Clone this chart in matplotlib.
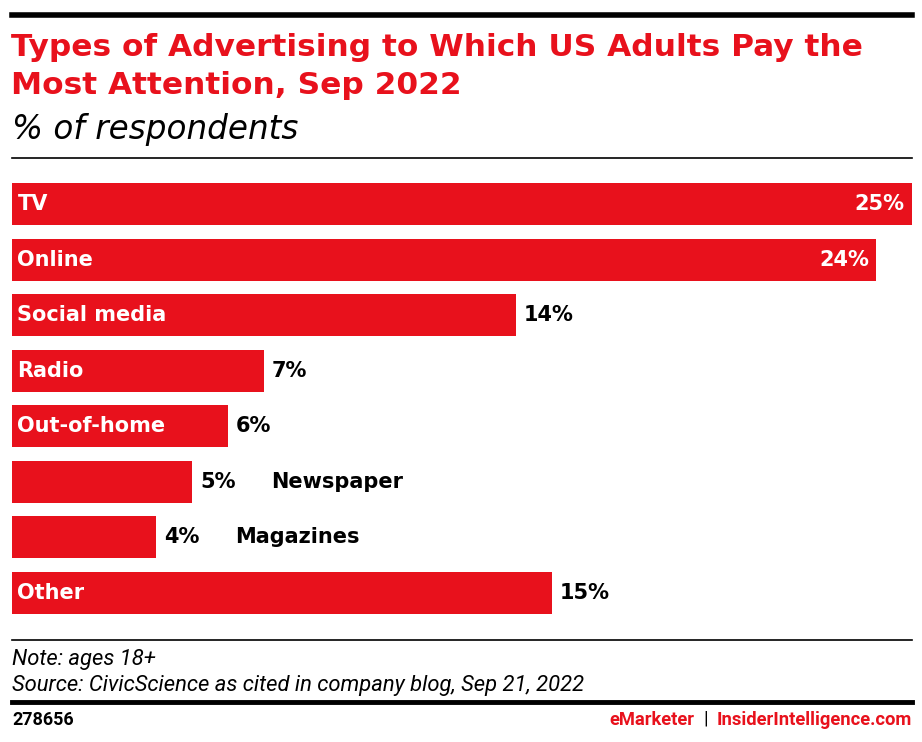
import matplotlib
matplotlib.use('Agg')
import matplotlib.pyplot as plt
from matplotlib.lines import Line2D

plt.rcParams['font.family'] = ['DejaVu Sans']

categories = ['TV', 'Online', 'Social media', 'Radio', 'Out-of-home',
              'Newspaper', 'Magazines', 'Other']
values = [25, 24, 14, 7, 6, 5, 4, 15]
inside_label = [True, True, True, True, True, False, False, True]
inside_value = [True, True, False, False, False, False, False, False]

RED = '#E8111C'
W, H = 922, 742
NARROW = ['Roboto', 'DejaVu Sans']

fig = plt.figure(figsize=(W / 100, H / 100), dpi=100)


def fx(px):
    return px / W


def fy(py):
    return 1 - py / H


# top rule, title, subtitle
fig.add_artist(Line2D([fx(12), fx(912)], [fy(15), fy(15)], color='black', lw=4))
fig.text(fx(11), fy(47), 'Types of Advertising to Which US Adults Pay the',
         color=RED, fontsize=22.5, fontweight='bold', va='center', ha='left')
fig.text(fx(11), fy(86), 'Most Attention, Sep 2022',
         color=RED, fontsize=22.5, fontweight='bold', va='center', ha='left')
fig.text(fx(12), fy(130), '% of respondents', color='black', fontsize=23.5,
         style='italic', va='center', ha='left')
fig.add_artist(Line2D([fx(12), fx(912)], [fy(158), fy(158)], color='black', lw=1.2))

# bars
ax = fig.add_axes([fx(12), fy(620.8), fx(900), (620.8 - 176.2) / H])
y = list(range(len(categories)))
ax.barh(y, values, height=0.755, color=RED)
ax.set_xlim(0, 25)
ax.set_ylim(len(categories) - 0.5, -0.5)
ax.axis('off')

for i, (cat, v) in enumerate(zip(categories, values)):
    if inside_value[i]:
        ax.text(v - 0.2, i, f'{v}%', color='white', fontsize=15,
                fontweight='bold', va='center', ha='right')
    else:
        ax.text(v + 0.22, i, f'{v}%', color='black', fontsize=15,
                fontweight='bold', va='center', ha='left')
    if inside_label[i]:
        ax.text(0.15, i, cat, color='white', fontsize=15,
                fontweight='bold', va='center', ha='left')
    else:
        ax.text(v + 2.2, i, cat, color='black', fontsize=15,
                fontweight='bold', va='center', ha='left')

# footer
fig.add_artist(Line2D([fx(12), fx(912)], [fy(640), fy(640)], color='black', lw=1.2))
fig.text(fx(12), fy(660), 'Note: ages 18+', fontsize=15.8, style='italic',
         family=NARROW, va='center', ha='left')
fig.text(fx(12), fy(685), 'Source: CivicScience as cited in company blog, Sep 21, 2022',
         fontsize=15.8, style='italic', family=NARROW, va='center', ha='left')
fig.add_artist(Line2D([fx(12), fx(912)], [fy(702), fy(702)], color='black', lw=3.5))
fig.text(fx(12), fy(720), '278656', fontsize=13, fontweight='bold',
         family=NARROW, va='center', ha='left')
fig.text(fx(912), fy(720), 'InsiderIntelligence.com', fontsize=13.2, fontweight='bold',
         family=NARROW, color=RED, va='center', ha='right')
fig.text(fx(706), fy(719), '|', fontsize=13.5, color='black', family=NARROW,
         va='center', ha='center')
fig.text(fx(694), fy(720), 'eMarketer', fontsize=13.2, fontweight='bold',
         family=NARROW, color=RED, va='center', ha='right')

fig.savefig('out.png', dpi=100)
